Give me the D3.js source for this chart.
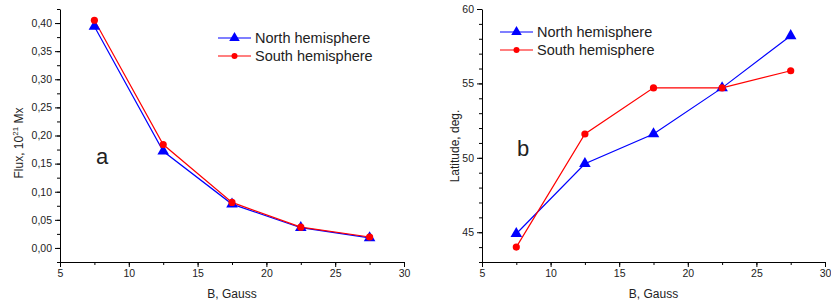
<!DOCTYPE html>
<html>
<head>
<meta charset="utf-8">
<script src="https://cdn.jsdelivr.net/npm/d3@7"></script>
<style>
  body { margin: 0; background: #fff; }
  svg { display: block; font-family: "Liberation Sans", Arial, sans-serif; }
  .axis path, .axis line { stroke: #000; stroke-width: 1; }
  .axis text { fill: #222; font-size: 10.5px; }
</style>
</head>
<body>
<div id="chart"></div>
<script>
var bValues = [7.5, 12.5, 17.5, 22.5, 27.5];
var fluxNorth = [0.394, 0.172, 0.078, 0.036, 0.018];
var fluxSouth = [0.405, 0.184, 0.081, 0.037, 0.0195];
var latNorth = [44.9, 49.6, 51.6, 54.7, 58.2];
var latSouth = [44.0, 51.6, 54.7, 54.7, 55.85];
var xTicks = [5, 10, 15, 20, 25, 30];
var fluxTicks = [0, 0.05, 0.10, 0.15, 0.20, 0.25, 0.30, 0.35, 0.40];
var latTicks = [45, 50, 55, 60];
var seriesNames = ["North hemisphere", "South hemisphere"];

var W = 831, H = 304;
var svg = d3.select("#chart").append("svg").attr("width", W).attr("height", H);

var commaFmt = function (d) { return d3.format(".2f")(d).replace(".", ","); };

function panel(opt) {
  var x = d3.scaleLinear().domain([5, 30]).range([opt.left, opt.right]);
  var y = d3.scaleLinear().domain(opt.yDomain).range([262, 9]);

  // minor ticks
  svg.append("g").attr("class", "axis")
    .attr("transform", "translate(0,262)")
    .call(d3.axisBottom(x).tickValues(d3.range(5, 30.01, 2.5)).tickSize(3).tickFormat(""))
    .select(".domain").remove();
  svg.append("g").attr("class", "axis")
    .attr("transform", "translate(" + opt.left + ",0)")
    .call(d3.axisLeft(y).tickValues(opt.minor).tickSize(3).tickFormat(""))
    .select(".domain").remove();

  svg.append("g").attr("class", "axis")
    .attr("transform", "translate(0,262)")
    .call(d3.axisBottom(x).tickValues(xTicks).tickSize(5).tickSizeOuter(0).tickPadding(3));
  svg.append("g").attr("class", "axis")
    .attr("transform", "translate(" + opt.left + ",0)")
    .call(d3.axisLeft(y).tickValues(opt.yTicks).tickSize(5).tickSizeOuter(0).tickPadding(3).tickFormat(opt.fmt));

  svg.append("text").text("B, Gauss")
    .attr("x", (opt.left + opt.right) / 2).attr("y", 298)
    .attr("text-anchor", "middle").attr("font-size", 12).attr("fill", "#222");

  var line = d3.line().x(function (d) { return x(d[0]); }).y(function (d) { return y(d[1]); });
  var cols = ["#0000ff", "#ff0000"];
  [opt.north, opt.south].forEach(function (vals, k) {
    var pts = bValues.map(function (b, i) { return [b, vals[i]]; });
    svg.append("path").datum(pts).attr("d", line)
      .attr("fill", "none").attr("stroke", cols[k]).attr("stroke-width", 1.2);
  });
  [opt.north, opt.south].forEach(function (vals, k) {
    var pts = bValues.map(function (b, i) { return [b, vals[i]]; });
    if (k === 0) {
      svg.selectAll(null).data(pts).enter().append("path")
        .attr("d", d3.symbol(d3.symbolTriangle, 58))
        .attr("transform", function (d) { return "translate(" + x(d[0]) + "," + y(d[1]) + ")"; })
        .attr("fill", cols[0]);
    } else {
      svg.selectAll(null).data(pts).enter().append("circle")
        .attr("cx", function (d) { return x(d[0]); })
        .attr("cy", function (d) { return y(d[1]); })
        .attr("r", 3.6).attr("fill", cols[1]);
    }
  });

  // legend
  seriesNames.forEach(function (name, k) {
    var ly = opt.legendY[k], lx = opt.legendX;
    svg.append("line").attr("x1", lx).attr("x2", lx + 33).attr("y1", ly).attr("y2", ly)
      .attr("stroke", cols[k]).attr("stroke-width", 1.2);
    if (k === 0) {
      svg.append("path").attr("d", d3.symbol(d3.symbolTriangle, 48))
        .attr("transform", "translate(" + (lx + 16.5) + "," + ly + ")").attr("fill", cols[0]);
    } else {
      svg.append("circle").attr("cx", lx + 16.5).attr("cy", ly).attr("r", 3).attr("fill", cols[1]);
    }
    svg.append("text").text(name).attr("x", lx + 37).attr("y", ly).attr("dy", "0.36em")
      .attr("font-size", 14.5).attr("fill", "#222");
  });

  svg.append("text").text(opt.tag).attr("x", opt.tagX).attr("y", opt.tagY)
    .attr("font-size", 22).attr("fill", "#222");

  var yl = svg.append("text")
    .attr("transform", "translate(" + opt.yLabelX + "," + opt.yLabelY + ") rotate(-90)")
    .attr("text-anchor", "middle").attr("font-size", 12).attr("fill", "#222");
  opt.yLabel(yl);
}

panel({
  left: 60, right: 404,
  yDomain: [-0.025, 0.425],
  yTicks: fluxTicks,
  minor: d3.range(-0.025, 0.426, 0.025),
  fmt: commaFmt,
  north: fluxNorth, south: fluxSouth,
  legendX: 218, legendY: [38, 56],
  tag: "a", tagX: 96, tagY: 164,
  yLabelX: 23, yLabelY: 143,
  yLabel: function (t) {
    t.append("tspan").text("Flux, 10");
    t.append("tspan").text("21").attr("font-size", 8).attr("dy", -5);
    t.append("tspan").text(" Mx").attr("dy", 5);
  }
});

panel({
  left: 482, right: 825,
  yDomain: [43, 60],
  yTicks: latTicks,
  minor: d3.range(43, 60.01, 1),
  fmt: d3.format("d"),
  north: latNorth, south: latSouth,
  legendX: 500, legendY: [32, 50],
  tag: "b", tagX: 517, tagY: 156,
  yLabelX: 459, yLabelY: 146,
  yLabel: function (t) { t.text("Latitude, deg."); }
});
</script>
</body>
</html>
